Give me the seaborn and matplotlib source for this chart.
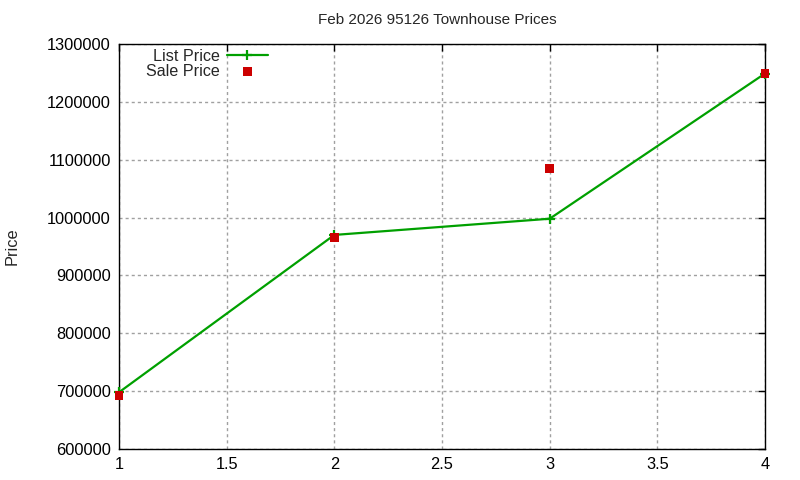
import matplotlib
matplotlib.use("Agg")
import matplotlib.pyplot as plt
import seaborn as sns
import pandas as pd

x_vals = [1, 2, 3, 4]
list_price = [698000, 970000, 998000, 1249000]
sale_price = [693000, 965000, 1085000, 1249000]
x_ticks = [1, 1.5, 2, 2.5, 3, 3.5, 4]
y_ticks = [600000, 700000, 800000, 900000, 1000000, 1100000, 1200000, 1300000]
title = "Feb 2026 95126 Townhouse Prices"

sns.set_style("white")
plt.rcParams['font.family'] = ['Liberation Sans', 'DejaVu Sans']
plt.rcParams['font.size'] = 11.8

df = pd.DataFrame({"x": x_vals, "List Price": list_price, "Sale Price": sale_price})

fig = plt.figure(figsize=(8, 4.8), dpi=100)
ax = fig.add_axes([119/800, 31/480, (765-119)/800, (449-44)/480])

sns.lineplot(data=df, x="x", y="List Price", ax=ax, color="#00a000", lw=1.6,
             marker="+", markersize=6.5, markeredgewidth=1.6,
             markeredgecolor="#00a000", label="List Price", clip_on=False, zorder=4)
sns.scatterplot(data=df, x="x", y="Sale Price", ax=ax, color="#cc0000", marker="s",
                s=40, edgecolor="none", label="Sale Price", zorder=5, clip_on=False)

ax.set_xlim(1, 4)
ax.set_ylim(600000, 1300000)
ax.set_xticks(x_ticks)
ax.set_xticklabels([f"{t:g}" for t in x_ticks])
ax.set_yticks(y_ticks)
ax.set_yticklabels([str(t) for t in y_ticks])
ax.grid(True, color="#a0a0a0", linestyle=(0, (2.2, 2.2)), lw=1)
ax.tick_params(direction="in", top=True, right=True, length=5, width=1, colors="black",
               labelsize=11.8, pad=6)
for s in ax.spines.values():
    s.set_color("black")
    s.set_linewidth(1)
ax.set_xlabel("")
ax.set_ylabel("")
fig.text(12/800, 1 - 246/480, "Price", rotation=90, ha="center", va="center", fontsize=11.8)
fig.text(437/800, 1 - 20/480, title, ha="center", va="center", fontsize=11)

leg = ax.legend(loc="upper right", bbox_to_anchor=(268/800, 1 - 49/480),
                bbox_transform=fig.transFigure, frameon=False,
                markerfirst=False, handlelength=2.56, handletextpad=0.45,
                borderaxespad=0.0, borderpad=0.0, labelspacing=0.0, fontsize=11.6)
for t in leg.get_texts():
    t.set_ha("right")

fig.savefig("out.png", dpi=100)
